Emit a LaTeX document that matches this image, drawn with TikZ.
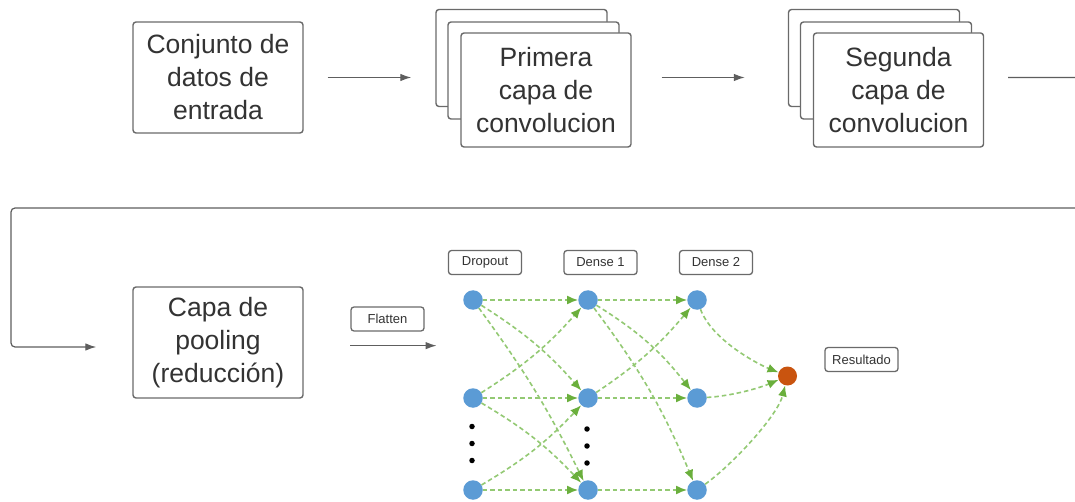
\documentclass[tikz,border=0pt]{standalone}
\usepackage{fontspec}
\setmainfont{Liberation Sans}
\usetikzlibrary{arrows.meta}
\definecolor{linegray}{HTML}{5E5E5E}
\definecolor{boxgray}{HTML}{6A6A6A}
\definecolor{textgray}{HTML}{333333}
\definecolor{nblue}{HTML}{5B9BD5}
\definecolor{norange}{HTML}{C9540F}
\definecolor{lgreen}{HTML}{93C973}
\definecolor{agreen}{HTML}{6AAF3C}
\begin{document}
\begin{tikzpicture}[x=1pt,y=1pt,
  big/.style={draw=boxgray, line width=1.4pt, rounded corners=3pt, fill=white, inner sep=0pt,
    align=center, text=textgray, font=\fontsize{26.5}{33}\selectfont,
    minimum width=170pt, minimum height=111pt},
  sheet/.style={draw=boxgray, line width=1.4pt, rounded corners=3pt, fill=white, inner sep=0pt,
    minimum width=171pt, minimum height=97pt},
  tag/.style={draw=boxgray, line width=1.3pt, rounded corners=3pt, fill=white, inner sep=0pt,
    text=textgray, font=\fontsize{13}{15}\selectfont, minimum width=73pt, minimum height=24pt},
  neuron/.style={circle, fill=nblue, inner sep=0pt, minimum size=19.5pt},
  outn/.style={circle, fill=norange, inner sep=0pt, minimum size=19pt},
  bdot/.style={circle, fill=black, inner sep=0pt, minimum size=5.5pt},
  arr/.style={draw=linegray, line width=1.2pt, -{Latex[length=11pt,width=7.5pt]}},
  conn/.style={draw=lgreen, line width=1.6pt, dash pattern=on 4.5pt off 3pt,
    -{Latex[length=11pt,width=9pt,color=agreen,fill=agreen]}},
]
\clip (0,0) rectangle (1075,-502);
\fill[white] (0,0) rectangle (1075,-502);

% top row
\node[big] (conj) at (218,-77.5) {Conjunto de\\datos de\\entrada};
\node[sheet] (s1a) at (521.5,-58) {};
\node[sheet] (s1b) at (533.5,-70.5) {};
\node[big, minimum height=114pt] (s1c) at (546,-90) {Primera\\capa de\\convolucion};
\node[sheet] (s2a) at (874,-58) {};
\node[sheet] (s2b) at (886,-70.5) {};
\node[big, minimum height=114pt] (s2c) at (898.5,-90) {Segunda\\capa de\\convolucion};

% bottom row
\node[big] (pool) at (218,-342.5) {Capa de\\pooling\\(reducción)};
\node[tag] (flat) at (387.5,-319) {Flatten};
\node[tag] (drop) at (485,-262.5) {Dropout};
\node[tag] (den1) at (600.5,-262.5) {Dense 1};
\node[tag] (den2) at (716,-262.5) {Dense 2};
\node[tag] (res) at (861.5,-359.5) {Resultado};

% neurons
\node[neuron] (n11) at (473,-300) {};
\node[neuron] (n12) at (473,-398) {};
\node[neuron] (n13) at (473,-490) {};
\node[neuron] (n21) at (588,-300) {};
\node[neuron] (n22) at (588,-398) {};
\node[neuron] (n23) at (588,-490) {};
\node[neuron] (n31) at (697,-300) {};
\node[neuron] (n32) at (697,-398) {};
\node[neuron] (n33) at (697,-490) {};
\node[outn] (out) at (787.5,-376) {};

\node[bdot] (d11) at (472,-426.5) {};
\node[bdot] (d12) at (472,-443.5) {};
\node[bdot] (d13) at (472,-460.5) {};
\node[bdot] (d21) at (587,-429) {};
\node[bdot] (d22) at (587,-446) {};
\node[bdot] (d23) at (587,-463) {};

% gray connectors
\draw[arr, shorten <=24pt, shorten >=24pt] (conj.east) -- (conj.east -| s1a.west);
\draw[arr, shorten <=30pt, shorten >=43pt] (s1c.east |- conj.east) -- (s2a.west |- conj.east);
\draw[arr, rounded corners=4pt] ([xshift=24pt]s2c.east |- conj.east) -- (1100,-77.5) -- (1100,-208)
  -- (11,-208) -- (11,-347) -- ([xshift=-36pt]pool.west |- 0,-347);
\draw[arr, shorten >=26.5pt] ([yshift=-14pt]flat.south west) -- ([yshift=-14pt]flat.south west -| n11.west);

% network connectors
\draw[conn] (n11) -- (n21);
\draw[conn] (n11) to[bend left=8] (n22);
\draw[conn] (n11) to[bend left=5] (n23);
\draw[conn] (n12) to[bend right=8] (n21);
\draw[conn] (n12) -- (n22);
\draw[conn] (n12) to[bend left=8] (n23);
\draw[conn] (n13) to[bend right=8] (n22);
\draw[conn] (n13) -- (n23);

\draw[conn] (n21) -- (n31);
\draw[conn] (n21) to[bend left=10] (n32);
\draw[conn] (n21) to[bend left=7] (n33);
\draw[conn] (n22) to[bend right=8] (n31);
\draw[conn] (n22) -- (n32);
\draw[conn] (n23) -- (n33);

\draw[conn] (n31) .. controls +(15,-40) and +(-30,12) .. (out);
\draw[conn] (n32) .. controls +(35,2) and +(-28,-12) .. (out);
\draw[conn] (n33) .. controls +(35,25) and +(-10,-40) .. (out);
\end{tikzpicture}
\end{document}
